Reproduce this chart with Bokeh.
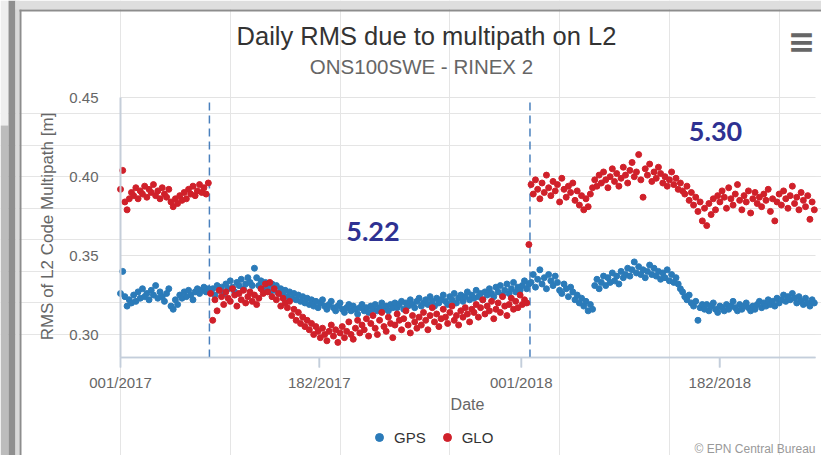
from bokeh.plotting import figure
from bokeh.models import (Range1d, FixedTicker, Label, Legend, LegendItem, BoxAnnotation,
                          NumeralTickFormatter, LinearAxis, Grid)
from bokeh.embed import file_html
from bokeh.resources import INLINE

# ---------------- data (one value every 2 days, day 0 = 001/2017) ----------------
gps_a = [0.326, 0.340, 0.324, 0.318, 0.322, 0.320, 0.325, 0.321, 0.327, 0.323,
         0.329, 0.324, 0.326, 0.322, 0.328, 0.325, 0.331, 0.323, 0.327, 0.324,
         0.321, 0.326, 0.329, 0.318, 0.316, 0.322, 0.319, 0.325, 0.323, 0.327,
         0.324, 0.328, 0.325, 0.322, 0.327, 0.329, 0.326, 0.328, 0.330, 0.327, 0.329]
gps_b1 = [0.327, 0.329, 0.325, 0.331, 0.328, 0.330, 0.326, 0.332, 0.329, 0.334,
          0.330, 0.327, 0.333, 0.331, 0.335, 0.329, 0.332, 0.336, 0.333, 0.331, 0.342]
gps_b2 = [0.336, 0.331, 0.334, 0.329, 0.333, 0.330, 0.327, 0.332, 0.328, 0.331,
          0.326, 0.329, 0.325, 0.328, 0.324, 0.327, 0.323, 0.326, 0.322]
gps_b3 = [0.325, 0.321, 0.324, 0.320, 0.323, 0.319, 0.322, 0.318, 0.321, 0.317,
          0.320, 0.322, 0.318, 0.316, 0.319, 0.321, 0.317, 0.315, 0.318, 0.320,
          0.316, 0.314, 0.317, 0.319, 0.315, 0.318, 0.316, 0.313, 0.317, 0.319,
          0.315, 0.317, 0.314, 0.318, 0.316, 0.319, 0.315, 0.317, 0.320, 0.316,
          0.318, 0.315, 0.319, 0.317, 0.320]
gps_b4 = [0.317, 0.319, 0.321, 0.316, 0.320, 0.318, 0.322, 0.319, 0.317, 0.321,
          0.323, 0.318, 0.320, 0.322, 0.319, 0.324, 0.321, 0.318, 0.323, 0.320,
          0.322, 0.325, 0.321, 0.319, 0.324, 0.322, 0.326, 0.320, 0.323, 0.325,
          0.321, 0.324, 0.327, 0.322, 0.325, 0.323, 0.328, 0.324, 0.326, 0.322]
gps_b5 = [0.327, 0.325, 0.329, 0.326, 0.324, 0.330, 0.327, 0.331, 0.325, 0.328,
          0.332, 0.326, 0.329, 0.333, 0.327, 0.330, 0.328, 0.331, 0.334, 0.329, 0.332]
gps_c1 = [0.333, 0.338, 0.330, 0.335, 0.341, 0.332, 0.336, 0.329, 0.338, 0.334,
          0.331, 0.337, 0.333, 0.328]
gps_c2 = [0.326, 0.332, 0.329, 0.324, 0.330, 0.327, 0.322, 0.325, 0.320, 0.323,
          0.318, 0.321, 0.315, 0.319, 0.316]
gps_c3 = [0.331, 0.335, 0.329, 0.333, 0.337, 0.331, 0.336, 0.333, 0.339, 0.334,
          0.337, 0.332, 0.340, 0.336, 0.338, 0.342, 0.337, 0.341, 0.346, 0.339,
          0.343, 0.338, 0.341, 0.336, 0.340, 0.344, 0.338, 0.342, 0.337, 0.340,
          0.335, 0.339, 0.336, 0.341, 0.334, 0.338, 0.333, 0.336]
gps_c4 = [0.332, 0.329, 0.327, 0.324, 0.322, 0.325, 0.320, 0.318, 0.321, 0.309, 0.317, 0.319]
gps_c5 = [0.316, 0.319, 0.315, 0.318, 0.320, 0.316, 0.314, 0.318, 0.317, 0.315,
          0.319, 0.316, 0.318, 0.321, 0.317, 0.315, 0.319, 0.316, 0.318, 0.320,
          0.317, 0.315, 0.318, 0.316, 0.319, 0.321, 0.317, 0.320, 0.318, 0.322,
          0.319, 0.321, 0.318, 0.323, 0.320, 0.322, 0.325, 0.321, 0.324, 0.322,
          0.326, 0.323, 0.320, 0.324, 0.321, 0.319, 0.323, 0.320, 0.318, 0.322, 0.320]

glo_a = [0.392, 0.404, 0.384, 0.379, 0.386, 0.390, 0.388, 0.393, 0.386, 0.391,
         0.389, 0.394, 0.387, 0.392, 0.390, 0.395, 0.388, 0.391, 0.386, 0.393,
         0.389, 0.387, 0.392, 0.384, 0.381, 0.386, 0.383, 0.388, 0.385, 0.390,
         0.386, 0.392, 0.389, 0.394, 0.388, 0.391, 0.395, 0.390, 0.393, 0.389, 0.396]
glo_b1 = [0.326, 0.309, 0.322, 0.315, 0.328, 0.324, 0.319, 0.327, 0.323, 0.321,
          0.329, 0.325, 0.318, 0.326, 0.322, 0.328, 0.320, 0.324, 0.327, 0.321,
          0.325, 0.319, 0.323, 0.329, 0.326, 0.332, 0.327, 0.333, 0.324, 0.329,
          0.322, 0.326, 0.318, 0.323, 0.320]
glo_b2 = [0.317, 0.321, 0.312, 0.316, 0.309, 0.314, 0.307, 0.311, 0.305, 0.309,
          0.303, 0.307, 0.300, 0.305, 0.302]
glo_b3 = [0.298, 0.304, 0.300, 0.296, 0.302, 0.306, 0.299, 0.303, 0.295, 0.301,
          0.305, 0.298, 0.302, 0.308, 0.300, 0.297, 0.304, 0.309, 0.301, 0.306]
glo_b4 = [0.303, 0.310, 0.299, 0.307, 0.312, 0.304, 0.300, 0.309, 0.314, 0.305,
          0.302, 0.311, 0.307, 0.298, 0.306, 0.313, 0.309, 0.303, 0.310, 0.315,
          0.306, 0.301, 0.312, 0.308, 0.304]
glo_b5 = [0.311, 0.306, 0.314, 0.309, 0.303, 0.312, 0.317, 0.308, 0.313, 0.305,
          0.310, 0.316, 0.311, 0.307, 0.314, 0.318, 0.309, 0.312, 0.306, 0.315,
          0.311, 0.317, 0.313, 0.308, 0.316]
glo_b6 = [0.314, 0.319, 0.311, 0.317, 0.322, 0.313, 0.318, 0.315, 0.321, 0.310,
          0.316, 0.320, 0.314, 0.324, 0.318, 0.312, 0.319, 0.323, 0.316, 0.321,
          0.317, 0.325, 0.319, 0.322, 0.320]
glo_b7 = [0.357]
glo_c1 = [0.395, 0.389, 0.398, 0.392, 0.386, 0.396, 0.390, 0.401, 0.393, 0.388,
          0.397, 0.391, 0.395, 0.384, 0.399, 0.392, 0.387, 0.394, 0.390, 0.396,
          0.385, 0.391, 0.382, 0.388, 0.379, 0.386, 0.381, 0.389, 0.393, 0.398,
          0.394]
glo_c2 = [0.401, 0.396, 0.403, 0.398, 0.393, 0.400, 0.405, 0.397, 0.402, 0.394,
          0.399, 0.406, 0.401, 0.396, 0.404, 0.409, 0.400, 0.403, 0.414, 0.398,
          0.387, 0.405, 0.401, 0.408, 0.397, 0.403, 0.399, 0.406, 0.402, 0.396,
          0.400, 0.394, 0.398, 0.403, 0.395, 0.399, 0.392, 0.396, 0.391]
glo_c3 = [0.389, 0.394, 0.385, 0.390, 0.382, 0.387, 0.378, 0.384, 0.372, 0.380,
          0.369, 0.383, 0.376, 0.386, 0.379, 0.388]
glo_c4 = [0.384, 0.391, 0.387, 0.380, 0.393, 0.386, 0.382, 0.389, 0.395, 0.385,
          0.379, 0.388, 0.384, 0.391, 0.377, 0.386, 0.390, 0.383, 0.387, 0.381,
          0.389, 0.385, 0.392, 0.378, 0.386, 0.372, 0.384, 0.389, 0.382, 0.391,
          0.386, 0.380, 0.388, 0.394, 0.383, 0.387, 0.379, 0.390, 0.385, 0.381,
          0.388, 0.373, 0.384, 0.379]

gps = gps_a + gps_b1 + gps_b2 + gps_b3 + gps_b4 + gps_b5 + gps_c1 + gps_c2 + gps_c3 + gps_c4 + gps_c5
glo = glo_a + glo_b1 + glo_b2 + glo_b3 + glo_b4 + glo_b5 + glo_b6 + glo_b7 + glo_c1 + glo_c2 + glo_c3 + glo_c4
gps_days = [2 * i for i in range(len(gps))]
glo_days = [2 * i for i in range(len(glo))]

tick_days = [0, 181, 365, 546]
tick_labels = ["001/2017", "182/2017", "001/2018", "182/2018"]
y_ticks = [0.30, 0.35, 0.40, 0.45]
change_days = [81, 373]
note_days = [230, 542]
note_values = [0.3653, 0.4287]
note_texts = ["5.22", "5.30"]

FONT = "Liberation Sans"
W, H = 821, 455
AXIS_COLOR = "#c4cedb"

# ---------------- pixel <-> data helpers (layout only) ----------------
KX, X0 = 1.0978, 120.0      # px per day, px of day 0
KY, Y45 = 1578.0, 97.3      # px per unit, px of 0.45


def dx(px):
    return (px - X0) / KX


def vy(py):
    return 0.45 - (py - Y45) / KY


plot_right = dx(815)
plot_bottom = vy(357)
plot_top = 0.45
tick_end = vy(367)

p = figure(width=W, height=H, x_range=Range1d(dx(0), dx(W)), y_range=Range1d(vy(H), vy(0)),
           output_backend="svg", toolbar_location=None,
           x_axis_location=None, y_axis_location=None,
           min_border=0, background_fill_color="white", border_fill_color="white",
           outline_line_color=None)

# ---------------- screenshot frame (grey border at left / top) ----------------
frame_boxes = [
    (0, 8, 0, 125, "#eeeeee"),
    (0, 8, 125, H, "#bcbcbc"),
    (8, 15, 0, H, "#8f8f8f"),
    (15, 19, 0, H, "#d9d9d9"),
    (19, 21, 9, H, "#8d8d8d"),
    (15, W, 0, 9, "#dedede"),
    (19, W, 9, 11, "#8d8d8d"),
]
for l, r, t, b, c in frame_boxes:
    p.add_layout(BoxAnnotation(left=dx(l), right=dx(r), top=vy(t), bottom=vy(b),
                               fill_color=c, fill_alpha=1, line_color=None, level="underlay"))

# ---------------- grid & axes ----------------
try:
    ygrid = Grid(dimension=1, ticker=FixedTicker(ticks=y_ticks), cross_bounds=(0, plot_right),
                 grid_line_color="#e3e3e3", grid_line_width=1)
    p.add_layout(ygrid)
except AttributeError:
    p.segment(x0=[0] * len(y_ticks), x1=[plot_right] * len(y_ticks), y0=y_ticks, y1=y_ticks,
              line_color="#e3e3e3", line_width=1)

xaxis = LinearAxis(fixed_location=plot_bottom, bounds=(0, plot_right),
                   ticker=FixedTicker(ticks=tick_days),
                   major_label_overrides=dict(zip(tick_days, tick_labels)),
                   axis_line_color=AXIS_COLOR, axis_line_width=1.5,
                   major_tick_line_color=AXIS_COLOR, major_tick_line_width=1.5,
                   major_tick_out=10, major_tick_in=0, minor_tick_line_color=None,
                   major_label_standoff=6, major_label_text_font=FONT,
                   major_label_text_font_size="15px", major_label_text_color="#666666")
p.add_layout(xaxis, "below")

# x axis line and tick marks, drawn through the data scales as well
p.segment(x0=[0], x1=[plot_right], y0=[plot_bottom], y1=[plot_bottom],
          line_color=AXIS_COLOR, line_width=1.5)
p.segment(x0=tick_days, x1=tick_days, y0=[plot_bottom] * len(tick_days), y1=[tick_end] * len(tick_days),
          line_color=AXIS_COLOR, line_width=1.5)

yaxis = LinearAxis(fixed_location=0, bounds=(plot_bottom, plot_top),
                   ticker=FixedTicker(ticks=y_ticks), formatter=NumeralTickFormatter(format="0.00"),
                   axis_line_color="#c5ced9", axis_line_width=2,
                   major_tick_line_color=None, minor_tick_line_color=None,
                   major_tick_out=0, major_tick_in=0, major_label_standoff=22,
                   major_label_text_font=FONT, major_label_text_font_size="15px",
                   major_label_text_color="#666666")
p.add_layout(yaxis, "left")

# plot lines (station changes)
p.segment(x0=change_days, x1=change_days, y0=[plot_bottom] * len(change_days),
          y1=[plot_top] * len(change_days), line_color="#4a80bd", line_width=1.5, line_dash="8 5")

r_gps = p.scatter(gps_days, gps, size=6, marker="circle", fill_color="#2b7bb9", line_color="#2b7bb9")
r_glo = p.scatter(glo_days, glo, size=6, marker="circle", fill_color="#d0202a", line_color="#d0202a")

for d, v, t in zip(note_days, note_values, note_texts):
    p.add_layout(Label(x=d, y=v, text=t, text_align="center", text_baseline="middle",
                       text_font="Lato", text_font_style="bold", text_font_size="27px",
                       text_color="#2e3192"))


def screen_label(px, py, text, **kw):
    p.add_layout(Label(x=px, y=H - py, x_units="screen", y_units="screen", text=text,
                       text_baseline="middle", **kw))


screen_label(426, 35, "Daily RMS due to multipath on L2", text_align="center",
             text_font=FONT, text_font_size="25.5px", text_color="#333333")
screen_label(421, 66, "ONS100SWE - RINEX 2", text_align="center",
             text_font=FONT, text_font_size="20.5px", text_color="#666666")
screen_label(467, 404, "Date", text_align="center",
             text_font=FONT, text_font_size="16px", text_color="#666666")
screen_label(47, 226, "RMS of L2 Code Multipath [m]", text_align="center", angle=1.5708,
             text_font=FONT, text_font_size="17px", text_color="#666666")
screen_label(815, 448, "\u00a9 EPN Central Bureau", text_align="right",
             text_font=FONT, text_font_size="12px", text_color="#999999")
screen_label(801, 41, "\u2261", text_align="center",
             text_font="DejaVu Sans", text_font_style="bold", text_font_size="33px",
             text_color="#666666")

legend = Legend(items=[LegendItem(label="GPS", renderers=[r_gps]),
                       LegendItem(label="GLO", renderers=[r_glo])],
                orientation="horizontal", location=(369, 8), padding=0, margin=0, spacing=11,
                glyph_width=20, glyph_height=20, label_standoff=5,
                label_text_font=FONT, label_text_font_size="15px", label_text_color="#333333",
                background_fill_alpha=0, border_line_color=None)
p.add_layout(legend)

open("out.html", "w").write(file_html(p, INLINE))
